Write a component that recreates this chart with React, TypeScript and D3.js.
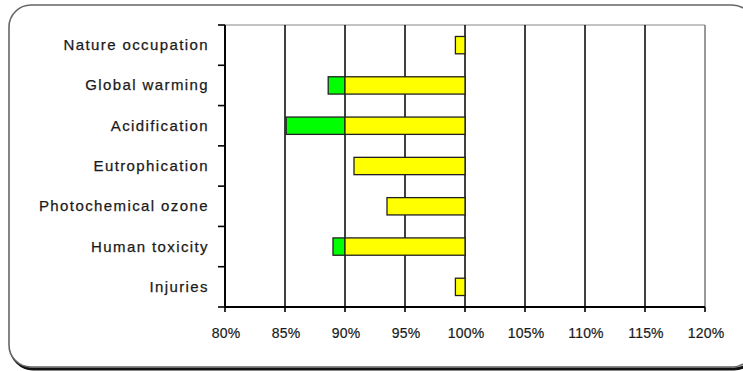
import React from "react";
import * as d3 from "d3";

const categories = [
  "Nature occupation",
  "Global warming",
  "Acidification",
  "Eutrophication",
  "Photochemical ozone",
  "Human toxicity",
  "Injuries",
];
// lowest value reached (start of bar), as fraction
const startValues = [0.992, 0.886, 0.851, 0.9075, 0.935, 0.89, 0.992];
// threshold between green and yellow part
const splitValue = 0.9;
const endValue = 1.0;
const xTicks = [0.8, 0.85, 0.9, 0.95, 1.0, 1.05, 1.1, 1.15, 1.2];

const W = 743;
const H = 371;
const left = 225;
const right = 705;
const top = 25;
const bottom = 307;

export default function App() {
  const x = d3.scaleLinear().domain([0.8, 1.2]).range([left, right]);
  const y = d3
    .scaleBand<string>()
    .domain(categories)
    .range([top, bottom])
    .paddingInner(0.57)
    .paddingOuter(0.285);
  const step = y.step();
  const fmt = (v: number) => `${Math.round(v * 100)}%`;

  return (
    <svg
      width={W}
      height={H}
      style={{ position: "absolute", left: 0, top: 0 }}
      fontFamily="'Liberation Sans', Arial, sans-serif"
    >
      <rect width={W} height={H} fill="#fff" />
      {/* outer rounded frame with shadow */}
      <rect x={11} y={7} width={745} height={362} rx={22} fill="none" stroke="#111" strokeWidth={3} />
      <rect x={9} y={5} width={745} height={362} rx={22} fill="#fff" stroke="#666" strokeWidth={1.6} />

      {/* top plot border */}
      <line x1={left} x2={right} y1={top} y2={top} stroke="#888" strokeWidth={1.2} />
      {/* vertical gridlines */}
      {xTicks.map((t) => (
        <line
          key={"g" + t}
          x1={x(t)}
          x2={x(t)}
          y1={top}
          y2={bottom}
          stroke={t === 1.2 ? "#777" : "#000"}
          strokeWidth={1.5}
        />
      ))}

      {/* bars */}
      {categories.map((c, i) => {
        const s = startValues[i];
        const by = y(c)!;
        const bh = y.bandwidth();
        const yStart = Math.max(s, splitValue);
        return (
          <g key={c}>
            {s < splitValue && (
              <rect
                x={x(s)}
                y={by}
                width={x(splitValue) - x(s)}
                height={bh}
                fill="#00ff00"
                stroke="#222"
                strokeWidth={1.3}
              />
            )}
            <rect
              x={x(yStart)}
              y={by}
              width={x(endValue) - x(yStart)}
              height={bh}
              fill="#ffff00"
              stroke="#222"
              strokeWidth={1.3}
            />
          </g>
        );
      })}

      {/* y axis */}
      <line x1={left} x2={left} y1={top} y2={bottom} stroke="#000" strokeWidth={1.8} />
      {d3.range(categories.length + 1).map((i) => (
        <line
          key={"yt" + i}
          x1={left - 7}
          x2={left}
          y1={top + i * step}
          y2={top + i * step}
          stroke="#000"
          strokeWidth={1.6}
        />
      ))}
      {categories.map((c) => (
        <text
          key={"l" + c}
          x={209}
          y={y(c)! + y.bandwidth() / 2 + 5}
          textAnchor="end"
          fontSize={15}
          letterSpacing={1.4}
          fill="#1a1a1a"
          stroke="#1a1a1a"
          strokeWidth={0.25}
        >
          {c}
        </text>
      ))}

      {/* x axis */}
      <line x1={left} x2={right} y1={bottom} y2={bottom} stroke="#000" strokeWidth={1.8} />
      {xTicks.map((t) => (
        <g key={"xt" + t}>
          <line x1={x(t)} x2={x(t)} y1={bottom} y2={bottom + 5} stroke="#000" strokeWidth={1.6} />
          <text
            x={x(t) + 1}
            y={337.5}
            textAnchor="middle"
            fontSize={14}
            letterSpacing={0.2}
            fill="#1a1a1a"
            stroke="#1a1a1a"
            strokeWidth={0.2}
          >
            {fmt(t)}
          </text>
        </g>
      ))}
    </svg>
  );
}
